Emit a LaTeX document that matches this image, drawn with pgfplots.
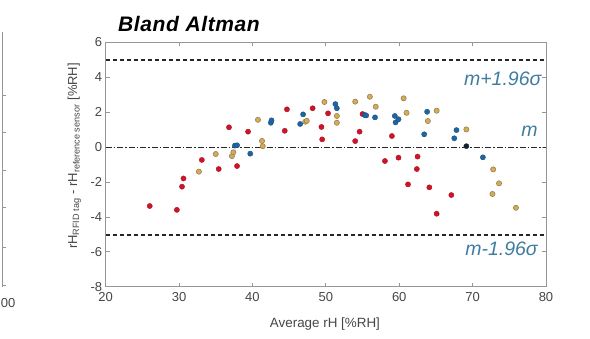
\documentclass[border=0pt]{standalone}
\usepackage{pgfplots}
\pgfplotsset{compat=1.18}
\usepackage{fontspec}
\setmainfont{Liberation Sans}
\definecolor{cred}{RGB}{206,20,40}
\definecolor{cblue}{RGB}{32,100,160}
\definecolor{cgold}{RGB}{214,172,82}
\definecolor{cgoldedge}{RGB}{150,128,88}
\definecolor{cteal}{RGB}{62,124,160}
\definecolor{caxis}{RGB}{150,150,150}
\definecolor{ctick}{RGB}{70,70,70}
\begin{document}
\begin{tikzpicture}
\useasboundingbox (0,0) rectangle (590pt,339pt);
% fragment of the neighbouring panel at the left edge
\draw[caxis, line width=0.6pt] (2.5pt,52pt) -- (2.5pt,307pt);
\foreach \yy in {54,92,132,169,207,244}{\draw[caxis, line width=0.6pt] (2.5pt,\yy pt) -- (5.5pt,\yy pt);}
\node[anchor=base east, inner sep=0pt, text=ctick, font=\fontsize{13}{14}\selectfont] at (15.5pt,31pt) {00};
\node[anchor=base west, inner sep=0pt, font=\fontsize{21}{24}\selectfont\bfseries\itshape\addfontfeature{LetterSpace=3}] at (118pt,307.5pt) {Bland Altman};
\begin{axis}[
  at={(105.7pt,52.3pt)}, anchor=south west,
  scale only axis, width=440.3pt, height=244.4pt,
  xmin=20, xmax=80, ymin=-8, ymax=6,
  xtick={20,30,...,80}, ytick={-8,-6,...,6},
  axis line style={caxis, line width=0.7pt},
  tick style={caxis, line width=0.7pt},
  major tick length=4pt,
  tick align=inside,
  /pgf/number format/assume math mode=true,
  ticklabel style={text=ctick, font=\fontsize{13}{14}\selectfont},
  xticklabel style={yshift=-2pt},
  xlabel={Average rH [\%RH]},
  xlabel style={at={(axis description cs:0.498,-0.165)}, anchor=base, text=ctick, font=\fontsize{13.4}{15}\selectfont},
  ylabel={rH\textsubscript{RFID tag} - rH\textsubscript{reference sensor} [\%RH]},
  ylabel style={at={(axis description cs:-0.065,0.535)}, anchor=base, text=ctick, font=\fontsize{13}{15}\selectfont},
  clip=false,
]
\addplot[black!85, line width=1.2pt, dash pattern=on 4pt off 3pt] coordinates {(20,4.98) (80,4.98)};
\addplot[black!85, line width=1.2pt, dash pattern=on 4pt off 3pt] coordinates {(20,-5.04) (80,-5.04)};
\addplot[black!85, line width=1.4pt, dash pattern=on 6pt off 2pt on 1.5pt off 2pt] coordinates {(20,-0.02) (80,-0.02)};
% red series
\addplot[only marks, mark=*, mark size=2.6pt, mark options={fill=cred, draw=cred!85!black, line width=0.4pt}] coordinates {
(26.0,-3.38) (29.7,-3.6) (30.4,-2.27) (30.6,-1.8) (33.1,-0.74) (35.4,-1.26)
(36.8,1.13) (37.9,-1.09) (39.4,0.88) (44.4,0.93) (44.7,2.16) (48.2,2.22)
(49.4,1.15) (49.5,0.44) (50.3,1.93) (54.0,0.34) (54.6,0.88) (55.0,1.89)
(58.05,-0.8) (59.0,0.63) (59.9,-0.61) (61.2,-2.14) (62.4,-1.26) (62.5,-0.55)
(64.1,-2.31) (65.1,-3.82) (67.1,-2.75)
};
% blue series
\addplot[only marks, mark=*, mark size=2.6pt, mark options={fill=cblue, draw=cblue!80!black, line width=0.4pt}] coordinates {
(37.6,0.08) (37.9,0.1) (39.7,-0.38) (42.5,1.39) (42.6,1.53) (46.5,1.32)
(46.9,1.87) (51.3,2.46) (51.5,2.22) (55.3,1.83) (55.5,1.81) (56.7,1.7)
(59.4,1.78) (59.5,1.41) (59.9,1.59) (63.4,0.73) (63.8,2.02) (67.5,0.5)
(67.8,0.97) (71.4,-0.59)
};
% gold series
\addplot[only marks, mark=*, mark size=2.6pt, mark options={fill=cgold, draw=cgoldedge, line width=0.6pt}] coordinates {
(32.7,-1.41) (35.0,-0.40) (37.2,-0.52) (37.4,-0.3) (40.75,1.56) (41.3,0.35)
(41.4,0.05) (47.2,1.45) (47.4,1.5) (49.8,2.58) (51.5,1.78) (51.5,1.39)
(54.0,2.6) (56.0,2.88) (56.8,2.31) (60.6,2.79) (61.0,1.96) (63.9,1.49)
(65.1,2.08) (69.15,1.01) (72.7,-2.69) (72.8,-1.28) (73.6,-2.08) (75.9,-3.48)
};
% dark point on the mean line
\addplot[only marks, mark=*, mark size=2.6pt, mark options={fill=black!70!cblue, draw=black!80, line width=0.4pt}] coordinates {(69.15,0.05)};
\node[anchor=base east, inner sep=0pt, text=cteal, font=\fontsize{19.5}{22}\selectfont\itshape] at (axis cs:79.4,3.55) {m+1.96σ};
\node[anchor=base east, inner sep=0pt, text=cteal, font=\fontsize{19.5}{22}\selectfont\itshape] at (axis cs:78.9,0.63) {m};
\node[anchor=base east, inner sep=0pt, text=cteal, font=\fontsize{19.5}{22}\selectfont\itshape] at (axis cs:78.9,-6.19) {m-1.96σ};
\end{axis}
\end{tikzpicture}
\end{document}
